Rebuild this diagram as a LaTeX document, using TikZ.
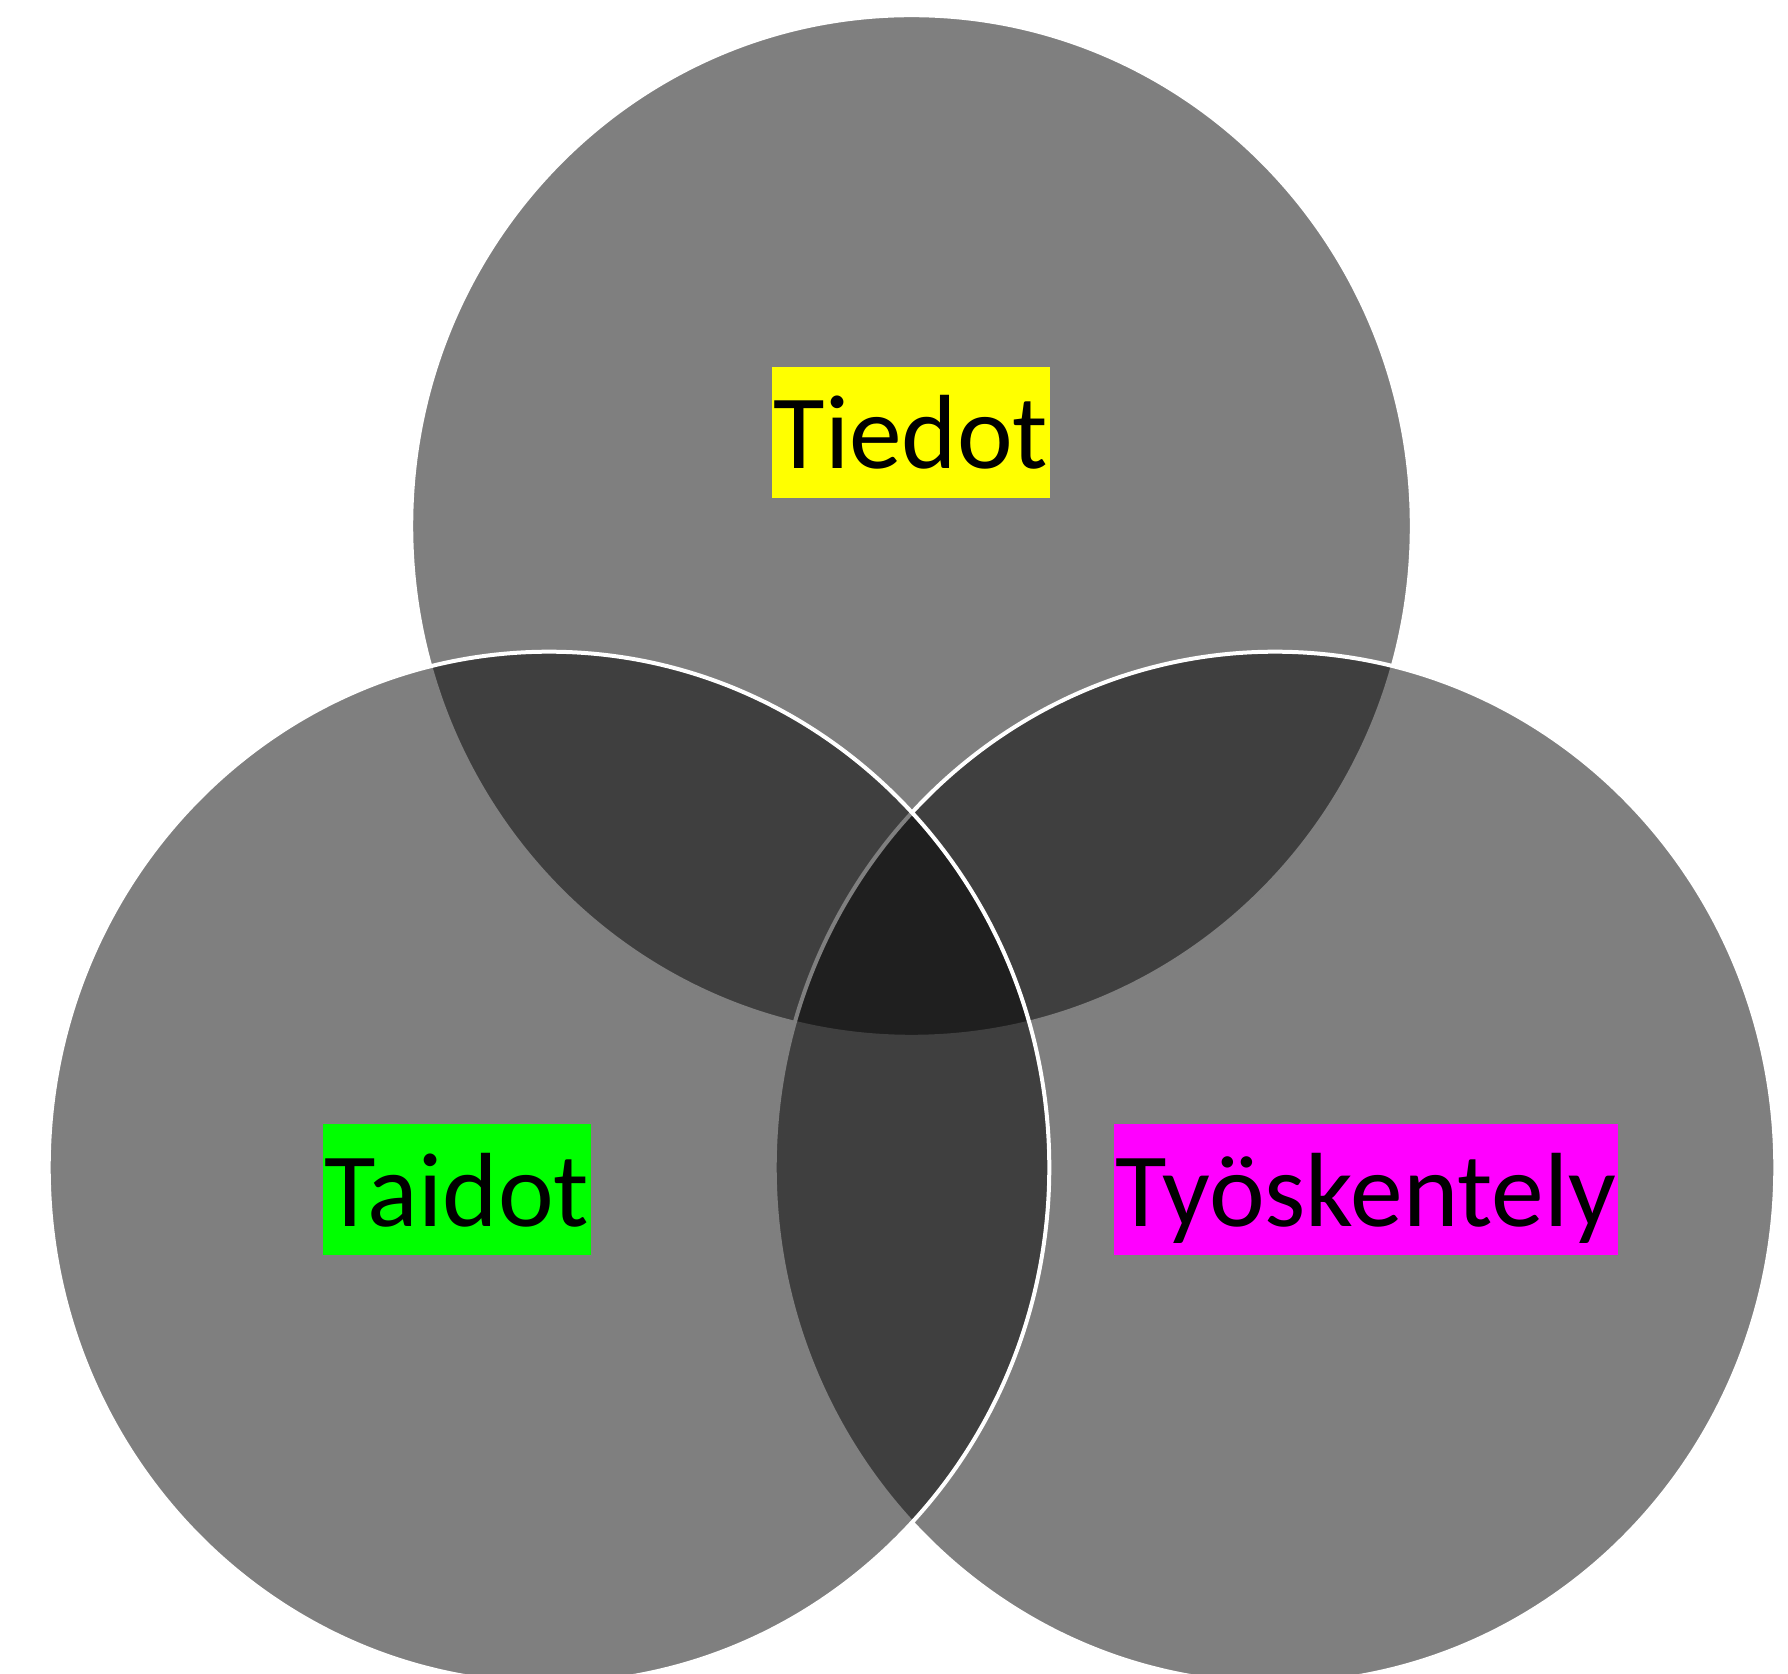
\documentclass[tikz,border=0pt]{standalone}
\usepackage{fontspec}
\setmainfont{Carlito}
\usepackage{xcolor}
\usetikzlibrary{positioning, shapes.geometric}
\definecolor{tiedotyellow}{RGB}{255, 255, 0}
\definecolor{taidotgreen}{RGB}{0, 255, 0}
\definecolor{tyomagenta}{RGB}{255, 0, 255}

\begin{document}
\begin{tikzpicture}[
      x=0.01cm, y=-0.01cm,
      piiri/.style={ellipse, inner sep=0pt, minimum width=10cm,
                    fill=black, fill opacity=0.5, draw=white, draw opacity=1,
                    line width=0.04cm},
      nimi/.style={anchor=base, inner xsep=0.02cm, inner ysep=0pt,
                   text height=1.02cm, text depth=0.29cm,
                   font=\fontsize{30}{36}\selectfont, text=black}
    ]
    \useasboundingbox (0,0) rectangle (1788,1674);
    % piirtojarjestys: ylin, oikea, vasen
    \node[piiri, minimum height=10.21cm] (tiedotc) at (911.5,526) {};
    \node[piiri, minimum height=10.31cm] (tyoc)    at (1275,1167.5) {};
    \node[piiri, minimum height=10.31cm] (taidotc) at (549,1167.5) {};

    \node[nimi, fill=tiedotyellow] (tiedot) at (911,469) {Tiedot};
    \node[nimi, fill=taidotgreen]  (taidot) at (457,1226) {Taidot};
    \node[nimi, fill=tyomagenta]   (tyo)    at (1366,1226) {Työskentely};
  \end{tikzpicture}
\end{document}
